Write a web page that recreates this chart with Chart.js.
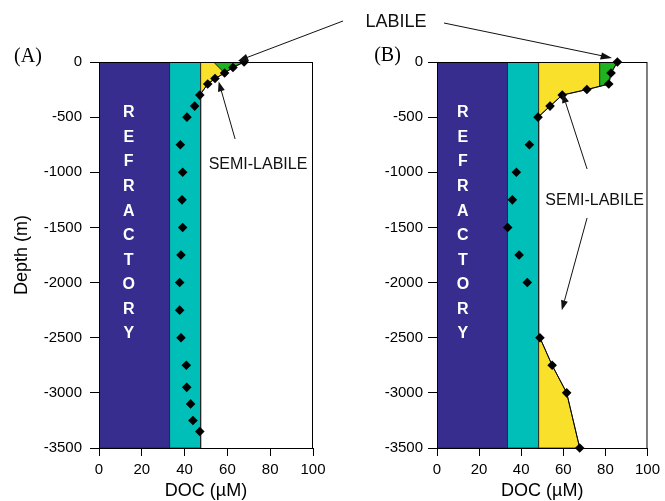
<!DOCTYPE html>
<html>
<head>
<meta charset="utf-8">
<script src="https://cdn.jsdelivr.net/npm/chart.js@4.4.1/dist/chart.umd.min.js"></script>
<style>
  body { margin: 0; background: #fff; }
  #wrap { position: relative; width: 665px; height: 501px; }
  #chartA { position: absolute; left: 0; top: 0; }
  #chartB { position: absolute; left: 335px; top: 0; }
  #over { position: absolute; left: 0; top: 0; pointer-events: none; }
</style>
</head>
<body>
<div id="wrap">
  <canvas id="chartA" width="335" height="501"></canvas>
  <canvas id="chartB" width="330" height="501"></canvas>
  <svg id="over" width="665" height="501">
    <text x="396" y="21" text-anchor="middle" dominant-baseline="central"
          font-family="Liberation Sans, Arial, sans-serif" font-size="18" fill="#111">LABILE</text>
    <line x1="343" y1="21" x2="247" y2="57.5" stroke="#111" stroke-width="1"/>
    <polygon points="238,61 246,54 249,61" fill="#111"/>
    <line x1="444" y1="23" x2="603" y2="56" stroke="#111" stroke-width="1"/>
    <polygon points="612,58 602,52.5 600,59.5" fill="#111"/>
  </svg>
</div>
<script>
// Profundidad (m) y DOC (uM)
const depthA = [0, -50, -100, -150, -200, -300, -400, -500, -750, -1000, -1250, -1500, -1750, -2000, -2250, -2500, -2750, -2950, -3100, -3250, -3350];
const docA   = [67.8, 62.6, 58.7, 54.2, 50.8, 47.1, 44.7, 41.1, 38.0, 39.1, 38.8, 39.1, 38.3, 37.7, 37.7, 38.3, 40.8, 41.0, 42.8, 43.9, 47.1];

const depthB = [0, -100, -200, -250, -300, -400, -500, -750, -1000, -1250, -1500, -1750, -2000, -2500, -2750, -3000, -3500];
const docB   = [85.7, 82.7, 81.6, 71.2, 59.5, 53.7, 48.0, 43.9, 37.7, 35.8, 33.6, 39.0, 42.9, 48.9, 54.7, 61.6, 67.8];

// Limites de los pools (uM)
const refractoryA = 33.0, semiEdgeA = 47.5;
const labileEdgeA = [[53.6, 0], [58.7, -100]];
const refractoryB = 33.5, semiEdgeB = 48.3;
const labileEdgeB = [[77.3, 0], [77.3, -221]];

const xTicks = [0, 20, 40, 60, 80, 100];
const yTicks = [0, -500, -1000, -1500, -2000, -2500, -3000, -3500];
const refractoryLetters = ['R', 'E', 'F', 'R', 'A', 'C', 'T', 'O', 'R', 'Y'];

const PURPLE = '#362D8F', TEAL = '#00BFB8', YELLOW = '#F9E02B', GREEN = '#1FB41F';

Chart.defaults.font.family = 'Liberation Sans, Arial, sans-serif';
Chart.defaults.color = '#000';

function pts(doc, depth) {
  return doc.map((d, i) => ({ x: d, y: depth[i] }));
}

// tramos donde el DOC supera el limite semi-labil
function segments(doc, depth, edge) {
  const segs = [];
  let cur = [];
  doc.forEach((d, i) => {
    if (d >= edge - 1) cur.push({ x: d, y: depth[i] });
    else { if (cur.length) segs.push(cur); cur = []; }
  });
  if (cur.length) segs.push(cur);
  return segs.filter(s => s.length > 1);
}

function shape(data, color, order) {
  return {
    data: data, fill: 'shape', backgroundColor: color, borderColor: '#222',
    borderWidth: 0.8, pointRadius: 0, tension: 0, order: order
  };
}

function buildDatasets(doc, depth, refr, semi, lab) {
  const segs = segments(doc, depth, semi);
  const top = segs[0];
  const labBottom = lab[1][1];
  const ds = [];
  ds.push({
    data: pts(doc, depth), showLine: false, pointStyle: 'rectRot', pointRadius: 4.8,
    pointBackgroundColor: '#000', pointBorderColor: '#000', pointBorderWidth: 0,
    clip: false, order: 0
  });
  segs.forEach(s => ds.push({
    data: s, borderColor: '#000', borderWidth: 1, pointRadius: 0, fill: false, tension: 0, order: 1
  }));
  // labil (verde)
  const green = [{ x: lab[0][0], y: lab[0][1] }]
    .concat(top.filter(p => p.y > labBottom))
    .concat([{ x: lab[1][0], y: lab[1][1] }, { x: lab[0][0], y: lab[0][1] }]);
  ds.push(shape(green, GREEN, 2));
  // semi-labil (amarillo)
  const last = top[top.length - 1];
  const yellowTop = [{ x: semi, y: 0 }, { x: lab[0][0], y: lab[0][1] }, { x: lab[1][0], y: lab[1][1] }]
    .concat(top.filter(p => p.y < labBottom))
    .concat([{ x: semi, y: last.y }, { x: semi, y: 0 }]);
  ds.push(shape(yellowTop, YELLOW, 2));
  segs.slice(1).forEach(s => {
    const poly = [{ x: semi, y: s[0].y }].concat(s)
      .concat([{ x: semi, y: s[s.length - 1].y }, { x: semi, y: s[0].y }]);
    ds.push(shape(poly, YELLOW, 2));
  });
  // semi-refractario (turquesa) y refractario
  ds.push(shape([{ x: refr, y: 0 }, { x: semi, y: 0 }, { x: semi, y: -3500 }, { x: refr, y: -3500 }, { x: refr, y: 0 }], TEAL, 3));
  ds.push(shape([{ x: 0, y: 0 }, { x: refr, y: 0 }, { x: refr, y: -3500 }, { x: 0, y: -3500 }, { x: 0, y: 0 }], PURPLE, 4));
  return ds;
}

function arrow(ctx, x1, y1, x2, y2) {
  const ang = Math.atan2(y2 - y1, x2 - x1);
  const L = 10, W = 3.5;
  const bx = x2 - L * Math.cos(ang), by = y2 - L * Math.sin(ang);
  ctx.beginPath();
  ctx.moveTo(x1, y1);
  ctx.lineTo(bx, by);
  ctx.stroke();
  ctx.beginPath();
  ctx.moveTo(x2, y2);
  ctx.lineTo(bx - W * Math.sin(ang), by + W * Math.cos(ang));
  ctx.lineTo(bx + W * Math.sin(ang), by - W * Math.cos(ang));
  ctx.closePath();
  ctx.fill();
}

const decor = {
  id: 'decor',
  afterDatasetsDraw(chart, args, o) {
    const { ctx, chartArea: a, scales: { x, y } } = chart;
    ctx.save();
    // marco
    ctx.strokeStyle = '#000';
    ctx.lineWidth = 1;
    ctx.strokeRect(a.left + 0.5, a.top + 0.5, a.right - a.left - 1, a.bottom - a.top);
    // letras REFRACTORY
    ctx.fillStyle = '#fff';
    ctx.font = 'bold 16px Liberation Sans, Arial, sans-serif';
    ctx.textAlign = 'center';
    ctx.textBaseline = 'middle';
    refractoryLetters.forEach((c, i) => {
      ctx.fillText(c, x.getPixelForValue(o.letterX), y.getPixelForValue(-462 - i * 222.7));
    });
    // textos y flechas
    ctx.fillStyle = '#111';
    ctx.strokeStyle = '#111';
    ctx.font = '16px Liberation Sans, Arial, sans-serif';
    o.notes.forEach(n => ctx.fillText(n.text, x.getPixelForValue(n.x), y.getPixelForValue(n.y)));
    o.arrows.forEach(ar => arrow(ctx,
      x.getPixelForValue(ar[0]), y.getPixelForValue(ar[1]),
      x.getPixelForValue(ar[2]), y.getPixelForValue(ar[3])));
    // etiqueta del panel
    ctx.fillStyle = '#000';
    ctx.font = '20px Liberation Serif, Times New Roman, serif';
    ctx.fillText(o.panel, o.panelX, o.panelY);
    ctx.restore();
  }
};

function makeChart(id, doc, depth, refr, semi, lab, cfg) {
  return new Chart(document.getElementById(id), {
    type: 'line',
    data: { datasets: buildDatasets(doc, depth, refr, semi, lab) },
    options: {
      responsive: false,
      animation: false,
      events: [],
      layout: { padding: { top: 62, right: cfg.padRight, bottom: 0, left: 0 } },
      plugins: {
        legend: { display: false },
        tooltip: { enabled: false },
        decor: cfg.decor
      },
      scales: {
        x: {
          type: 'linear', min: 0, max: 100,
          afterBuildTicks: s => { s.ticks = xTicks.map(v => ({ value: v })); },
          afterFit: s => { s.height = 53; },
          grid: { drawOnChartArea: false, drawTicks: true, tickLength: 8, color: '#000' },
          border: { display: true, color: '#000', width: 1 },
          ticks: { font: { size: 15 }, padding: 5, maxRotation: 0, color: '#000', callback: v => String(v) },
          title: { display: true, text: 'DOC (\u00b5M)', font: { size: 18 }, padding: { top: 0, bottom: -1 }, color: '#000' }
        },
        y: {
          type: 'linear', min: -3500, max: 0,
          afterBuildTicks: s => { s.ticks = yTicks.map(v => ({ value: v })); },
          afterFit: s => { s.width = cfg.axisWidth; },
          grid: { drawOnChartArea: false, drawTicks: true, tickLength: 9, color: '#000' },
          border: { display: true, color: '#000', width: 1 },
          ticks: { font: { size: 15 }, padding: cfg.tickPad, color: '#000', callback: v => String(v) },
          title: { display: cfg.yTitle, text: 'Depth (m)', font: { size: 18 }, padding: { top: 11, bottom: 0 }, color: '#000' }
        }
      }
    },
    plugins: [decor]
  });
}

makeChart('chartA', docA, depthA, refractoryA, semiEdgeA, labileEdgeA, {
  padRight: 22, axisWidth: 99, tickPad: 8, yTitle: true,
  decor: {
    letterX: 13.9, panel: '(A)', panelX: 28, panelY: 57,
    notes: [{ text: 'SEMI-LABILE', x: 74.3, y: -931 }],
    arrows: [[63.6, -698, 55.9, -176]]
  }
});

makeChart('chartB', docB, depthB, refractoryB, semiEdgeB, labileEdgeB, {
  padRight: 14, axisWidth: 102, tickPad: 5, yTitle: false,
  decor: {
    letterX: 12.3, panel: '(B)', panelX: 52.5, panelY: 56,
    notes: [{ text: 'SEMI-LABILE', x: 74.9, y: -1257 }],
    arrows: [[71.3, -970, 59.6, -281], [71.3, -1414, 59.3, -2252]]
  }
});
</script>
</body>
</html>
